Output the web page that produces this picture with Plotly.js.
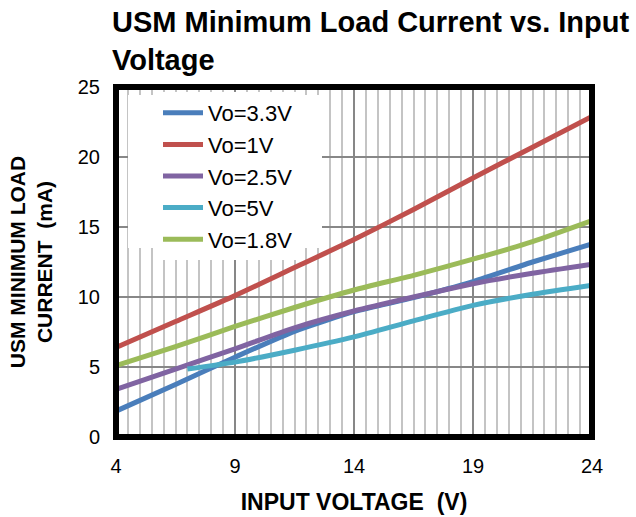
<!DOCTYPE html>
<html>
<head>
<meta charset="utf-8">
<script src="https://cdn.plot.ly/plotly-3.0.1.min.js"></script>
<style>
  html, body { margin: 0; padding: 0; background: #fff; }
  #chart { width: 636px; height: 517px; }
</style>
</head>
<body>
<div id="chart"></div>
<script>
// Input voltage (V)
const vin = [4, 6.5, 9, 11.5, 14, 16.5, 19, 21.5, 24];
const vin5 = [7, 9, 11.5, 14, 16.5, 19, 21.5, 24];

// Minimum load current (mA)
const vo33 = [1.85, 3.75, 5.7, 7.55, 8.95, 9.95, 11.1, 12.5, 13.8];
const vo1  = [6.4, 8.25, 10.1, 12.1, 14.1, 16.25, 18.5, 20.7, 22.9];
const vo25 = [3.4, 4.85, 6.3, 7.8, 9.0, 10.0, 10.95, 11.7, 12.35];
const vo5  = [4.85, 5.35, 6.2, 7.15, 8.3, 9.4, 10.2, 10.85];
const vo18 = [5.1, 6.45, 7.9, 9.25, 10.5, 11.55, 12.7, 13.95, 15.45];

const seriesNames = ['Vo=3.3V', 'Vo=1V', 'Vo=2.5V', 'Vo=5V', 'Vo=1.8V'];
const seriesX = [vin, vin, vin, vin5, vin];
const seriesY = [vo33, vo1, vo25, vo5, vo18];
const seriesColors = ['#4A7EBB', '#C0504D', '#8064A2', '#4BACC6', '#9BBB59'];

const xTicks = [4, 9, 14, 19, 24];
const yTicks = [0, 5, 10, 15, 20, 25];

const FONT = 'Liberation Sans, Arial, sans-serif';

const traces = seriesNames.map((n, i) => ({
  type: 'scatter',
  mode: 'lines',
  name: n,
  x: seriesX[i],
  y: seriesY[i],
  line: { color: seriesColors[i], width: 5, shape: 'spline', smoothing: 0.6 },
  hoverinfo: 'skip'
}));

const layout = {
  width: 636,
  height: 517,
  margin: { l: 116, r: 44, t: 87, b: 80 },
  paper_bgcolor: '#ffffff',
  plot_bgcolor: '#ffffff',
  showlegend: true,
  title: {
    text: 'USM Minimum Load Current vs. Input<br>Voltage',
    font: { family: FONT, size: 29, color: '#000', weight: 'bold' },
    xref: 'container', x: 112 / 636, xanchor: 'left',
    yref: 'container', y: 1 - 32 / 517, yanchor: 'top'
  },
  xaxis: {
    range: [4, 24],
    tickmode: 'array',
    tickvals: xTicks,
    ticktext: xTicks.map(String),
    ticks: 'outside', ticklen: 11, tickcolor: 'rgba(0,0,0,0)',
    tickfont: { family: FONT, size: 20, color: '#000' },
    showgrid: true, gridcolor: '#878787', gridwidth: 2,
    minor: { dtick: 0.5, tick0: 4, showgrid: true, gridcolor: '#c4c4c4', gridwidth: 2, ticks: '' },
    zeroline: false,
    showline: false,
    title: {
      text: 'INPUT VOLTAGE\u00a0 (V)\u00a0\u00a0\u00a0\u00a0',
      font: { family: FONT, size: 23, color: '#000', weight: 'bold' },
      standoff: 17
    }
  },
  yaxis: {
    range: [0, 25],
    tickmode: 'array',
    tickvals: yTicks,
    ticktext: yTicks.map(String),
    ticks: 'outside', ticklen: 11, tickcolor: 'rgba(0,0,0,0)',
    tickfont: { family: FONT, size: 20, color: '#000' },
    showgrid: true, gridcolor: '#878787', gridwidth: 2,
    zeroline: false,
    showline: false,
    title: {
      text: 'USM MINIMUM LOAD<br>CURRENT\u00a0 (mA)',
      font: { family: FONT, size: 21, color: '#000', weight: 'bold' },
      standoff: 19
    }
  },
  legend: {
    x: (158 - 116) / 476, xanchor: 'left',
    y: (437 - 92) / 350, yanchor: 'top',
    bgcolor: '#ffffff',
    borderwidth: 0,
    font: { family: FONT, size: 22, color: '#000' },
    itemwidth: 40
  },
  shapes: [
    {
      type: 'rect', xref: 'paper', yref: 'paper', layer: 'above',
      x0: (128 - 116) / 476, x1: (322 - 116) / 476,
      y0: (437 - 248) / 350, y1: (437 - 95) / 350,
      line: { width: 0 }, fillcolor: '#ffffff'
    },
    {
      type: 'rect', xref: 'paper', yref: 'paper',
      x0: 0, x1: 1, y0: 0, y1: 1,
      line: { color: '#000', width: 6 },
      fillcolor: 'rgba(0,0,0,0)'
    }
  ]
};

Plotly.newPlot('chart', traces, layout, { displayModeBar: false, staticPlot: true });
</script>
</body>
</html>
